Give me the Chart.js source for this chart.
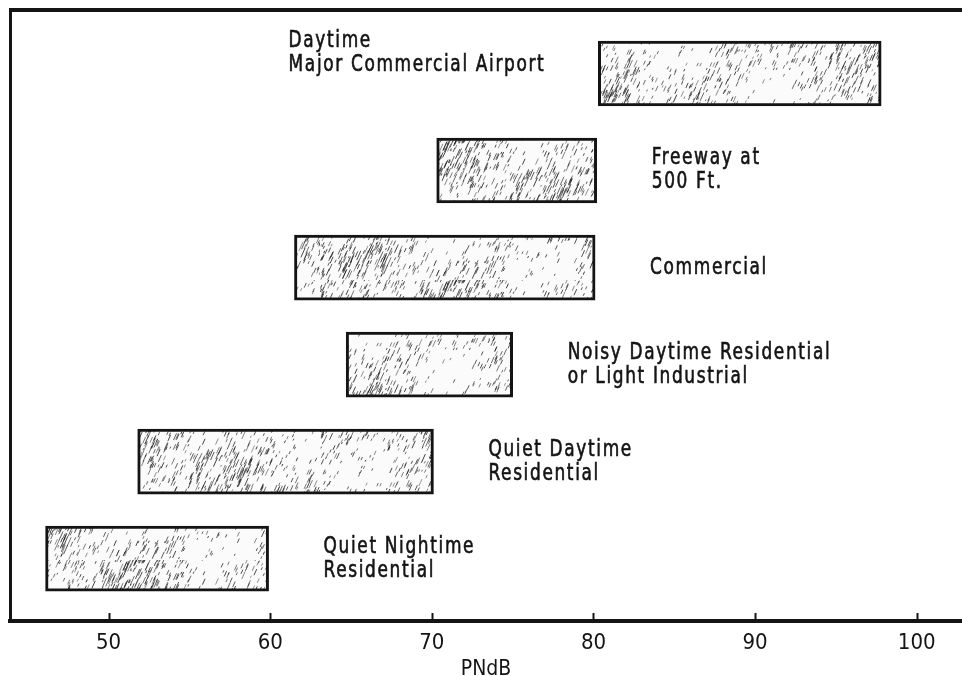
<!DOCTYPE html>
<html><head><meta charset="utf-8">
<script src="https://cdn.jsdelivr.net/npm/chart.js@4/dist/chart.umd.min.js"></script>
<style>html,body{margin:0;padding:0;background:#fff;overflow:hidden}#wrap{width:962px;height:676px;position:relative}</style>
</head><body><div id="wrap"><canvas id="c" width="962" height="676"></canvas></div>
<script>
// ---- data ----
const categories = [
  ["Daytime", "Major Commercial Airport"],
  ["Freeway at", "500 Ft."],
  ["Commercial"],
  ["Noisy Daytime Residential", "or Light Industrial"],
  ["Quiet Daytime", "Residential"],
  ["Quiet Nightime", "Residential"]
];
const lowValues  = [80.3, 70.3, 61.5, 64.7, 51.8, 46.1];
const highValues = [97.8, 80.2, 80.1, 75.0, 70.1, 59.9];
const xTickValues = [50, 60, 70, 80, 90, 100];
const xAxisTitle = "PNdB";

// ---- style ----
const labelSide  = ["left", "right", "right", "right", "right", "right"];
const labelShift = [-20, 0, 0, 0, 0, 0];
const FONT = "'Liberation Sans Narrow','DejaVu Sans Condensed','Arial Narrow',sans-serif";
const INK = "#141414";
const SX = 0.82;

function makePattern() {
  const W = 320, H = 140;
  const c = document.createElement('canvas'); c.width = W; c.height = H;
  const g = c.getContext('2d');
  g.fillStyle = '#fbfbfb'; g.fillRect(0, 0, W, H);
  let s = 12345;
  const rnd = () => { s = (s * 9301 + 49297) % 233280; return s / 233280; };
  g.lineCap = 'round';
  for (let k = 0; k < 2400; k++) {
    const x = rnd() * W, y = rnd() * H;
    const dens = 0.5 + 0.5 * Math.sin(x / 28) * Math.cos(y / 23 + x / 60);
    if (rnd() > dens * 0.9 + 0.1) continue;
    const len = 1 + rnd() * (2 + 7 * dens);
    g.strokeStyle = 'rgba(30,30,30,' + (0.45 + 0.4 * rnd()) + ')';
    g.lineWidth = 1;
    g.beginPath(); g.moveTo(x, y); g.lineTo(x + len * 0.45, y - len); g.stroke();
  }
  return g.createPattern(c, 'repeat');
}

const framePlugin = {
  id: 'frame',
  afterDraw(chart) {
    const ctx = chart.ctx, a = chart.chartArea, xs = chart.scales.x;
    ctx.save();
    ctx.strokeStyle = INK;
    ctx.lineWidth = 4;
    ctx.beginPath(); ctx.moveTo(a.left - 1, a.top); ctx.lineTo(chart.width, a.top); ctx.stroke();
    ctx.lineWidth = 2;
    xTickValues.forEach(v => {
      const px = Math.round(xs.getPixelForValue(v)) + 0.5;
      ctx.beginPath(); ctx.moveTo(px, a.bottom - 8); ctx.lineTo(px, a.bottom); ctx.stroke();
    });
    ctx.restore();
  }
};

const labelPlugin = {
  id: 'barLabels',
  afterDatasetsDraw(chart) {
    const ctx = chart.ctx, xs = chart.scales.x, ys = chart.scales.y;
    ctx.save();
    ctx.fillStyle = INK;
    ctx.strokeStyle = INK;
    ctx.lineWidth = 0.6;
    ctx.font = "23px " + FONT;
    try { ctx.letterSpacing = '2px'; } catch (e) {}
    ctx.textBaseline = 'middle';
    ctx.textAlign = 'left';
    const lh = 24;
    categories.forEach((lines, i) => {
      const cy = ys.getPixelForValue(i) + labelShift[i];
      const y0 = cy - (lines.length - 1) * lh / 2;
      let x0;
      if (labelSide[i] === 'left') {
        const w = SX * Math.max(...lines.map(t => ctx.measureText(t).width));
        x0 = xs.getPixelForValue(lowValues[i]) - 53 - w;
      } else {
        x0 = xs.getPixelForValue(highValues[i]) + 55;
      }
      lines.forEach((t, j) => {
        ctx.save();
        ctx.translate(x0, y0 + j * lh);
        ctx.scale(SX, 1);
        ctx.fillText(t, 0, 0);
        ctx.strokeText(t, 0, 0);
        ctx.restore();
      });
    });
    ctx.restore();
  }
};

const pattern = makePattern();

new Chart(document.getElementById('c'), {
  type: 'bar',
  data: {
    datasets: [{
      data: categories.map((c, i) => ({ y: i, x: [lowValues[i], highValues[i]] })),
      backgroundColor: pattern,
      borderColor: INK,
      borderWidth: 3,
      borderSkipped: false,
      barThickness: 65
    }]
  },
  options: {
    indexAxis: 'y',
    responsive: false,
    devicePixelRatio: 1,
    animation: false,
    layout: { padding: { left: 10, top: 10, right: 0, bottom: 0 } },
    plugins: { legend: { display: false }, tooltip: { enabled: false } },
    scales: {
      x: {
        type: 'linear',
        min: 43.9, max: 102.8,
        afterBuildTicks: s => { s.ticks = xTickValues.map(v => ({ value: v })); },
        afterFit: s => { s.height = 55; },
        grid: { display: false, drawTicks: false },
        border: { display: true, width: 4, color: INK },
        ticks: { color: INK, font: { family: FONT, size: 22 }, padding: 9, maxRotation: 0, autoSkip: false },
        title: { display: true, text: xAxisTitle, color: INK, font: { family: FONT, size: 21 }, padding: { top: 0, bottom: -6 } }
      },
      y: {
        type: 'linear',
        reverse: true,
        offset: false,
        min: -0.654, max: 5.642,
        afterFit: s => { s.width = 0; },
        grid: { display: false, drawTicks: false, offset: false },
        border: { display: true, width: 3, color: INK },
        ticks: { display: false }
      }
    }
  },
  plugins: [framePlugin, labelPlugin]
});
</script>
</body></html>
